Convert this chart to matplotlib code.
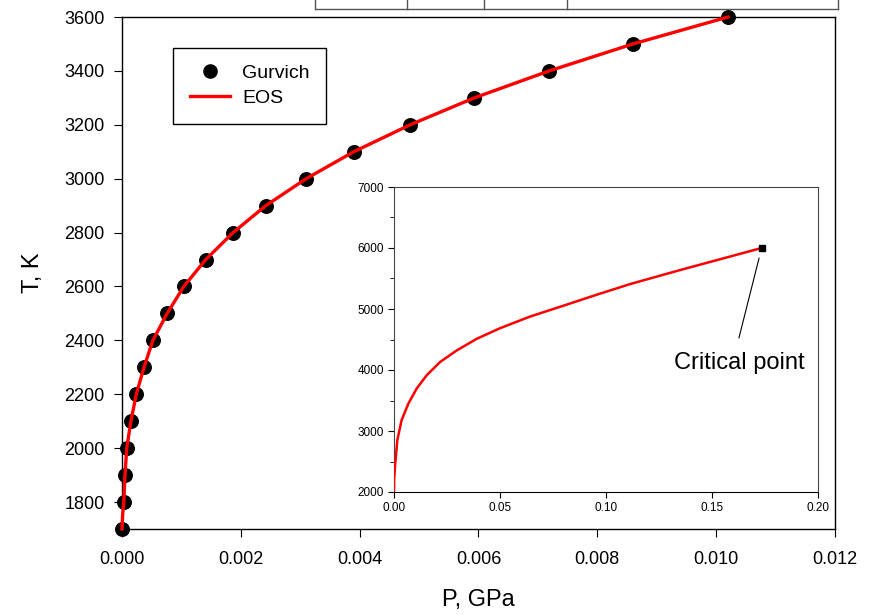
import matplotlib
matplotlib.use('Agg')
import matplotlib.pyplot as plt
from matplotlib.lines import Line2D

plt.rcParams['font.family'] = ['Liberation Sans', 'DejaVu Sans']

# Gurvich saturation data (main plot)
T_gurvich = [1700, 1800, 1900, 2000, 2100, 2200, 2300, 2400, 2500, 2600, 2700,
             2800, 2900, 3000, 3100, 3200, 3300, 3400, 3500, 3600]
P_gurvich = [0.0, 0.00003, 0.00005, 0.00008, 0.00015, 0.00024, 0.00037, 0.00052,
             0.00076, 0.00104, 0.00141, 0.00187, 0.00242, 0.0031, 0.0039,
             0.00485, 0.00593, 0.00719, 0.0086, 0.0102]

# EOS curve (main plot)
T_eos = [1700, 1750, 1800, 1900, 2000, 2100, 2200, 2300, 2400, 2500, 2600, 2700,
         2800, 2900, 3000, 3100, 3200, 3300, 3400, 3500, 3600]
P_eos = [0.0, 0.00001, 0.00003, 0.00005, 0.00008, 0.00015, 0.00024, 0.00037,
         0.00052, 0.00076, 0.00104, 0.00141, 0.00187, 0.00242, 0.0031, 0.0039,
         0.00485, 0.00593, 0.00719, 0.0086, 0.0102]

# EOS curve up to the critical point (inset)
P_inset = [0.0, 0.00005, 0.00047, 0.00157, 0.0036, 0.0068, 0.0107, 0.0154,
           0.0217, 0.0296, 0.039, 0.050, 0.0641, 0.0799, 0.0956, 0.1113,
           0.1349, 0.1734]
T_inset = [2000, 2200, 2418, 2853, 3179, 3451, 3696, 3913, 4130, 4321, 4511,
           4685, 4875, 5054, 5234, 5408, 5638, 6000]
T_crit = 6000
P_crit = 0.1734

W, H = 877, 615
fig = plt.figure(figsize=(W / 100, H / 100), dpi=100)


def box(l, t, r, b):
    return [l / W, 1 - b / H, (r - l) / W, (b - t) / H]


ax = fig.add_axes(box(122, 17, 835, 529))
ax.scatter(P_gurvich, T_gurvich, s=95, color='black', zorder=3, clip_on=False)
ax.plot(P_eos, T_eos, color='red', lw=2.4, zorder=4, clip_on=False)
ax.set_xlim(0, 0.012)
ax.set_ylim(1700, 3600)
ax.set_xticks([0, 0.002, 0.004, 0.006, 0.008, 0.010, 0.012])
ax.set_xticklabels(['0.000', '0.002', '0.004', '0.006', '0.008', '0.010', '0.012'])
ax.set_yticks(range(1800, 3601, 200))
ax.tick_params(direction='out', length=5.5, labelsize=13)
ax.tick_params(axis='y', pad=7)
ax.tick_params(axis='x', pad=10)
ax.set_xlabel('P, GPa', fontsize=17)
ax.set_ylabel('T, K', fontsize=17)
ax.xaxis.set_label_coords(0.5, -0.118)
ax.yaxis.set_label_coords(-0.11, 0.5)
for sp in ax.spines.values():
    sp.set_linewidth(1.0)

handles = [Line2D([], [], marker='o', ls='none', color='black', markersize=9.5),
           Line2D([], [], color='red', lw=2.4)]
leg = ax.legend(handles, ['Gurvich', 'EOS'], loc='upper left',
                bbox_to_anchor=(173 / W, 1 - 48 / H), bbox_transform=fig.transFigure,
                borderaxespad=0, fontsize=14, fancybox=False,
                edgecolor='black', framealpha=1, borderpad=0.85,
                handlelength=2.1, labelspacing=0.38, handletextpad=0.6)
leg.get_frame().set_linewidth(1.0)

# inset
ins = fig.add_axes(box(394, 187, 818, 492))
ins.plot(P_inset, T_inset, color='red', lw=1.8, zorder=3)
ins.plot([P_crit], [T_crit], marker='s', color='black', markersize=5, zorder=4)
ins.set_xlim(0, 0.2)
ins.set_ylim(2000, 7000)
ins.set_xticks([0, 0.05, 0.10, 0.15, 0.20])
ins.set_xticklabels(['0.00', '0.05', '0.10', '0.15', '0.20'])
ins.set_yticks(range(2000, 7001, 1000))
ins.set_yticks(range(2500, 7000, 1000), minor=True)
ins.tick_params(direction='out', length=4, labelsize=8.5, pad=3)
ins.tick_params(which='minor', direction='out', length=3)
for side in ['left', 'top', 'right']:
    ins.spines[side].set_color('#444444')
ins.annotate('', xy=(0.1722, 5835), xytext=(0.1627, 4525),
             arrowprops=dict(arrowstyle='-', color='black', lw=0.8,
                             shrinkA=0, shrinkB=0))
ins.text(0.1627, 4018, 'Critical point', fontsize=17, ha='center', va='baseline')

# partial table at the top edge
tcol = '#555555'
fig.add_artist(Line2D([315 / W, 838 / W], [1 - 9 / H, 1 - 9 / H], color=tcol, lw=1.0))
for x in [315, 407, 484, 567, 838]:
    fig.add_artist(Line2D([x / W, x / W], [1 - 9 / H, 1], color=tcol, lw=1.0))

fig.savefig('out.png', dpi=100)
